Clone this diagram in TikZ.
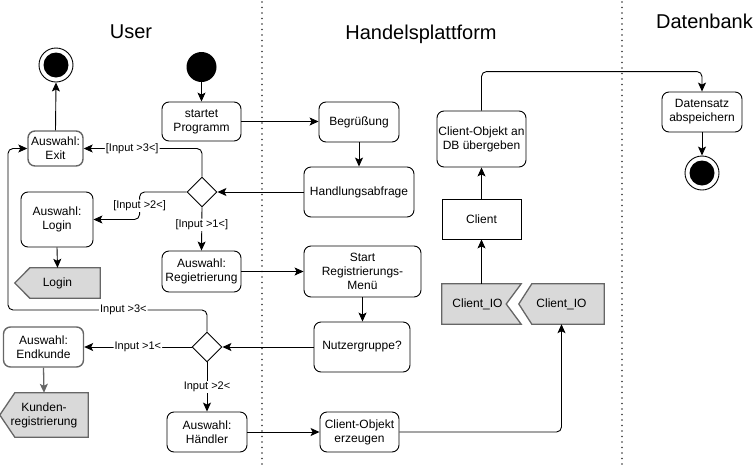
\documentclass[tikz,border=0pt]{standalone}
\usepackage{fontspec}
\setmainfont{Liberation Sans}
\usetikzlibrary{shapes.geometric,arrows.meta,calc,backgrounds}
\definecolor{sgfill}{HTML}{D9D9D9}
\definecolor{sgline}{HTML}{666666}
\tikzset{
  txt/.style={font=\fontsize{12}{14}\selectfont, align=center, inner sep=1pt},
  box/.style={txt, draw, rounded corners=7pt, line width=0.9pt},
  sqbox/.style={txt, draw, line width=0.9pt},
  graybox/.style={box, draw=sgline, line width=1.4pt},
  sigtext/.style={txt, draw=none},
  sigshape/.style={fill=sgfill, draw=sgline, line width=1.3pt, line join=miter},
  dec/.style={diamond, draw, line width=0.9pt, minimum width=30pt, minimum height=30pt, inner sep=0pt, aspect=1},
  startst/.style={circle, fill=black, minimum size=30pt, inner sep=0pt},
  endst/.style={circle, draw, line width=0.9pt, fill=white, minimum size=34pt, inner sep=0pt,
     path picture={\fill[black] (path picture bounding box.center) circle (12.5pt);}},
  arr/.style={draw, line width=0.9pt, -{Stealth[length=9pt,width=8pt,inset=2pt]}, rounded corners=5pt},
  grayarr/.style={arr, draw=sgline, line width=1.3pt},
  lbl/.style={font=\fontsize{11}{13}\selectfont, fill=white, inner sep=1pt},
  title/.style={font=\fontsize{20}{24}\selectfont},
  lane/.style={line width=1.6pt, dash pattern=on 0pt off 5.5pt, line cap=round, black!80},
}
\begin{document}
\begin{tikzpicture}[x=1pt, y=-1pt]
\useasboundingbox (0,0) rectangle (753,464);

% swimlane separators
\coordinate (s1t) at (262,2);
\coordinate (s1b) at (262,464);
\coordinate (s2t) at (622,2);
\coordinate (s2b) at (622,464);
\draw[lane] (s1t) -- (s1b);
\draw[lane] (s2t) -- (s2b);

% titles
\node[title] (tUser) at (131,32) {User};
\node[title] (tHandel) at (421,34) {Handelsplattform};
\node[title] (tDB) at (704.5,21) {Datenbank};

% user lane
\node[startst] (start) at (201.5,67) {};
\node[endst] (endU) at (56,65) {};
\node[box, minimum width=79pt, minimum height=39pt] (startet) at (201.5,121.5) {startet\\Programm};
\node[graybox, minimum width=55pt, minimum height=35pt] (exit) at (55.5,148.5) {Auswahl:\\Exit};
\node[dec] (d1) at (202,192) {};
\node[box, minimum width=72pt, minimum height=55pt] (loginbox) at (57,219.5) {Auswahl:\\Login};
\node[sigtext, minimum width=85pt, minimum height=30pt] (login) at (57.5,283) {Login};
\node[box, minimum width=79pt, minimum height=41pt] (regi) at (201.5,271.5) {Auswahl:\\Regietrierung};
\node[dec] (d2) at (207,347) {};
\node[graybox, minimum width=80pt, minimum height=40pt] (endk) at (43.5,347) {Auswahl:\\Endkunde};
\node[sigtext, minimum width=88pt, minimum height=44pt] (kunden) at (44,415) {Kunden-\\registrierung};
\node[box, minimum width=80pt, minimum height=40pt] (haendler) at (207,432) {Auswahl:\\Händler};

% platform lane
\node[box, minimum width=80pt, minimum height=40pt] (begr) at (359,122) {Begrüßung};
\node[box, minimum width=110pt, minimum height=50pt] (handl) at (359,192) {Handlungsabfrage};
\node[box, minimum width=117pt, minimum height=51pt] (startReg) at (362.5,271.5) {Start\\Registrierungs-\\Menü};
\node[box, minimum width=96pt, minimum height=50pt] (nutz) at (362,347) {Nutzergruppe?};
\node[box, minimum width=79pt, minimum height=40pt] (cerz) at (359.5,432) {Client-Objekt\\erzeugen};

\node[box, minimum width=89pt, minimum height=56pt] (cdb) at (481.5,139) {Client-Objekt an\\DB übergeben};
\node[sqbox, minimum width=79pt, minimum height=40pt] (client) at (481.5,219) {Client};
\node[sigtext, minimum width=79pt, minimum height=40pt] (cioL) at (481.5,304) {Client\_IO\hspace*{8pt}};
\node[sigtext, minimum width=85pt, minimum height=40pt] (cioR) at (561.5,304) {Client\_IO};

% signal shapes behind their texts
\begin{scope}[on background layer]
\draw[sigshape] (login.north east) -- ($(login.north west)+(15,0)$) -- (login.west)
   -- ($(login.south west)+(15,0)$) -- (login.south east) -- cycle;
\draw[sigshape] (kunden.north east) -- ($(kunden.north west)+(15,0)$) -- (kunden.west)
   -- ($(kunden.south west)+(15,0)$) -- (kunden.south east) -- cycle;
\draw[sigshape] (cioL.north west) -- (cioL.north east) -- ($(cioL.east)+(-15,0)$)
   -- (cioL.south east) -- (cioL.south west) -- cycle;
\draw[sigshape] (cioR.north east) -- ($(cioR.north west)+(13,0)$) -- (cioR.west)
   -- ($(cioR.south west)+(13,0)$) -- (cioR.south east) -- cycle;
\end{scope}

% database lane
\node[box, minimum width=80pt, minimum height=40pt] (dsatz) at (702,112) {Datensatz\\abspeichern};
\node[endst] (endD) at (702,173) {};

% connectors
\draw[arr] (start) -- (startet);
\draw[arr] (startet.east) -- (startet.east -| begr.west);
\draw[arr] (begr) -- (handl);
\draw[arr] (handl.west) -- (d1.east);
\draw[arr] (d1.north) |- node[lbl, pos=0.795]{[Input >3<]} (exit.east);
\draw[arr] (d1.west) -- ++(-47,0) |- node[lbl, pos=0.25]{[Input >2<]} (loginbox.east);
\draw[arr] (d1.south) -- node[lbl, pos=0.4]{[Input >1<]} (regi.north);
\draw[arr] (loginbox.south) -- (login.north);
\draw[arr] (exit.north) -- (endU.south);
\draw[arr] (regi.east) -- (regi.east -| startReg.west);
\draw[arr] (startReg.south) -- (startReg.south |- nutz.north);
\draw[arr] (nutz.west) -- (d2.east);
\draw[arr] (d2.west) -- node[lbl, pos=0.5]{Input >1<} (endk.east);
\draw[arr] (d2.north) |- node[lbl, pos=0.71]{Input >3<} (8,310) |- (exit.west);
\draw[grayarr] (endk.south) -- (kunden.north);
\draw[arr] (d2.south) -- node[lbl, pos=0.5]{Input >2<} (haendler.north);
\draw[arr] (haendler.east) -- (cerz.west);
\draw[arr] (cerz.east) -| (cioR.south);
\draw[arr] (cioL.north) -- (client.south);
\draw[arr] (client.north) -- (cdb.south);
\draw[arr] (cdb.north) -- ++(0,-39) -| (dsatz.north);
\draw[arr] (dsatz.south) -- (endD.north);
\end{tikzpicture}
\end{document}
